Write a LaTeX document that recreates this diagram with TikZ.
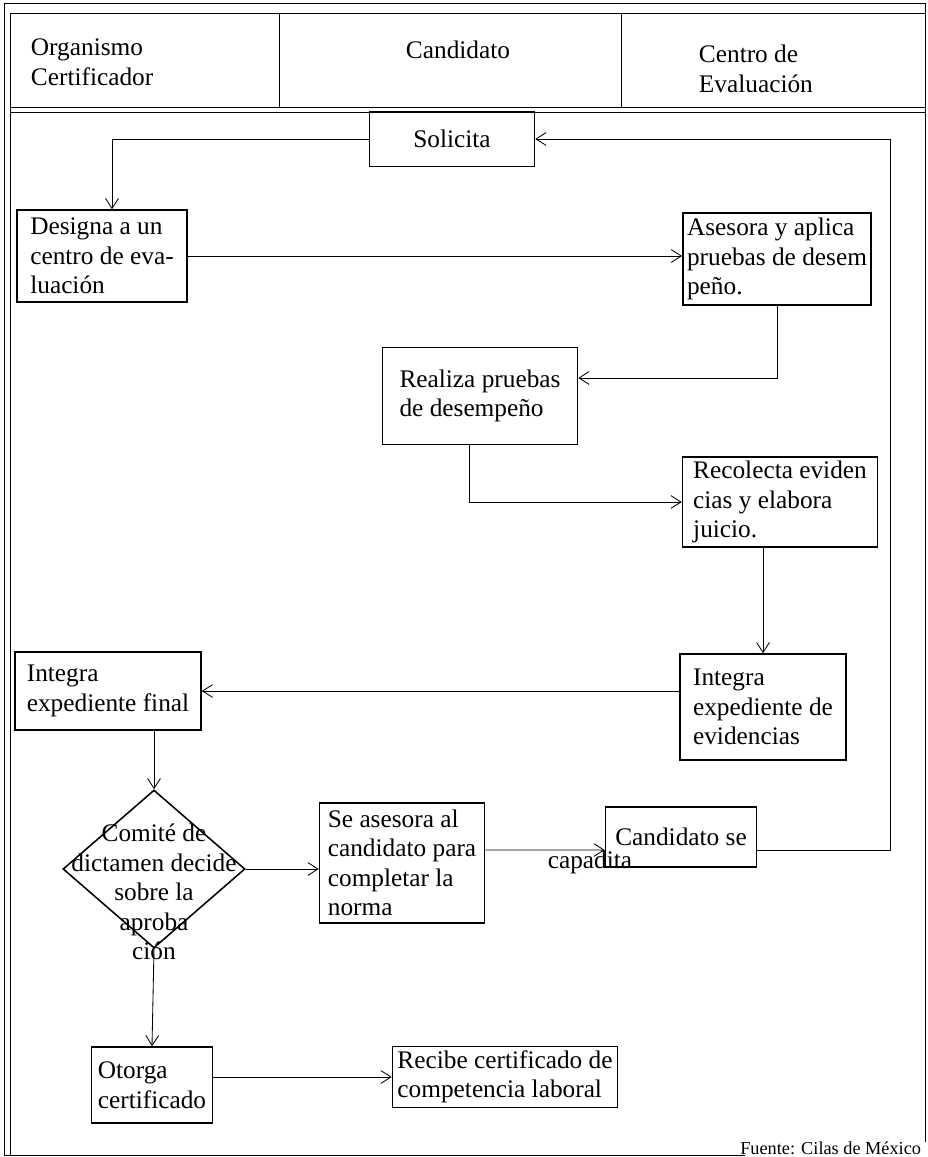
\documentclass[tikz,border=0pt]{standalone}
\usepackage{fontspec}
\setmainfont{Liberation Serif}
\usetikzlibrary{arrows.meta,shapes.geometric}
\tikzset{
    every node/.style={align=left,font=\fontsize{18}{21}\selectfont,},
    box/.style={draw,rectangle,line width=1.1pt,inner sep=3pt,},
    decision/.style={draw,diamond,line width=1.1pt,inner sep=0pt,},
    link/.style={-{Straight Barb[length=2.5mm,width=3.2mm]},line width=0.6pt,},
    frame/.style={line width=0.6pt,},
}

\begin{document}
\begin{tikzpicture}[x=0.025cm,y=-0.025cm]
                \useasboundingbox (0,0) rectangle (927,1157);

                % marco y encabezado
                \draw[frame] (925,1142) -- (925,3) -- (4,3) -- (4,1155) -- (745,1155);
                \draw[frame] (10,13) -- (10,1155);
                \draw[frame] (10,13) -- (925,13);
                \draw[frame] (10,107) -- (925,107);
                \draw[frame] (10,112) -- (925,112);
                \draw[frame] (279,13) -- (279,107);
                \draw[frame] (621,13) -- (621,107);

                \node[anchor=west] (organismo) at (26,62) {Organismo\\Certificador};
                \node (candidato) at (458,50) {Candidato};
                \node[anchor=west] (centro) at (694,69) {Centro de\\Evaluación};

                % cajas
                \node[box,minimum width=4.125cm,minimum height=1.375cm] (solicita) at (452,139) {Solicita};
                \node[box,minimum width=4.25cm,minimum height=2.3cm] (designa) at (102,256) {Designa a un\\centro de eva-\\luación};
                \node[box,minimum width=4.65cm,minimum height=2.3cm] (asesora) at (777,259) {Asesora y aplica\\pruebas de desem\\peño.};
                \node[box,minimum width=4.875cm,minimum height=2.425cm] (realiza) at (480,396) {Realiza pruebas\\de desempeño};
                \node[box,minimum width=4.875cm,minimum height=2.25cm] (recolecta) at (780,502) {Recolecta eviden\\cias y elabora\\juicio.};
                \node[box,minimum width=4.15cm,minimum height=2.65cm] (integraev) at (763,707) {Integra\\expediente de\\evidencias};
                \node[box,minimum width=4.65cm,minimum height=1.95cm] (integrafin) at (108,691) {Integra\\expediente final};

                \node[decision,minimum width=4.55cm,minimum height=3.95cm] (comite) at (154,869) {};
                \node[align=center] (comitetxt) at (154,892) {Comité de\\dictamen decide\\sobre la\\aproba\\ción};

                \node[box,minimum width=4.125cm,minimum height=3cm] (seasesora) at (402,863) {Se asesora al\\candidato para\\completar la\\norma};
                \node[box,minimum width=3.775cm,minimum height=1.5cm] (candse) at (681,837) {Candidato se};
                \node (capadita) at (590,862) {capadita};

                \node[box,minimum width=3.025cm,minimum height=1.9cm] (otorga) at (152,1085) {Otorga\\certificado};
                \node[box,minimum width=5.625cm,minimum height=1.525cm] (recibe) at (505,1077) {Recibe certificado de\\competencia laboral};

                \node[anchor=base east,font=\fontsize{13}{15}\selectfont] (fuente) at (926,1154) {Fuente: Cilas de México};

                % flechas
                \draw[link] (solicita.west) -| ([xshift=0.25cm]designa.north);
                \draw[link] (designa.east) -- (designa.east -| asesora.west);
                \draw[link] (asesora.south) |- ([yshift=0.45cm]realiza.east);
                \draw[link] ([xshift=-0.26cm]realiza.south) |- (recolecta.west);
                \draw[link] (recolecta.south -| integraev.north) -- (integraev.north);
                \draw[link] (integraev.west |- integrafin.east) -- (integrafin.east);
                \draw[link] (integrafin.south -| comite.north) -- (comite.north);
                \draw[link] (comite.east) -- (comite.east -| seasesora.west);
                \draw[link] (seasesora.east |- candse.west) ++(0,13) -- ([yshift=-0.325cm]candse.west);
                \coordinate (retorno) at (890,850);
                \draw[link] (candse.east |- retorno) -- (retorno) |- (solicita.east);
                \draw[link] (comite.south) -- (otorga.north);
                \draw[link] (otorga.east |- recibe.west) -- (recibe.west);
\end{tikzpicture}
\end{document}
